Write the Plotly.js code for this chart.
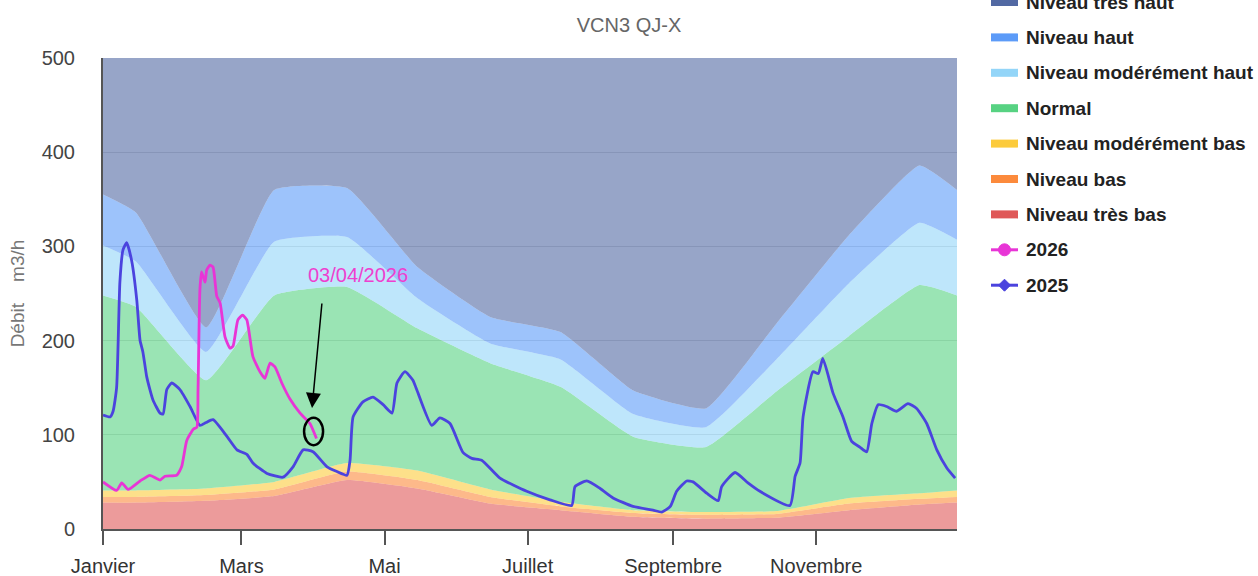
<!DOCTYPE html>
<html>
<head>
<meta charset="utf-8">
<script src="https://cdn.plot.ly/plotly-3.0.1.min.js"></script>
<style>html,body{margin:0;padding:0;background:#fff;}#chart{width:1258px;height:576px;}</style>
</head>
<body>
<div id="chart"></div>
<script>
// ---- Axis labels ----
var monthTickDays = [0, 59, 120, 181, 243, 304];
var monthTickLabels = ['Janvier', 'Mars', 'Mai', 'Juillet', 'Septembre', 'Novembre'];

// ---- Threshold bands (day of year, upper bound of each band, m3/h) ----
var bandDays      = [0, 14, 44, 73, 104, 134, 165, 195, 226, 257, 287, 318, 348, 364];
var topTresBas    = [28, 28, 30, 35, 52, 43, 27, 20, 13, 11, 12, 20, 26, 28];
var topBas        = [34, 34, 36, 42, 61, 52, 34, 24, 17, 15, 16, 27, 32, 34];
var topModBas     = [41, 41, 43, 50, 70, 62, 42, 29, 20, 18, 19, 33, 38, 41];
var topNormal     = [248, 236, 158, 248, 257, 213, 176, 151, 98, 87, 146, 205, 259, 248];
var topModHaut    = [301, 284, 188, 305, 310, 245, 197, 180, 122, 108, 180, 261, 325, 307];
var topHaut       = [355, 336, 214, 360, 362, 278, 225, 209, 147, 128, 218, 312, 386, 360];
var topTresHaut   = [500, 500, 500, 500, 500, 500, 500, 500, 500, 500, 500, 500, 500, 500];

// ---- 2026 series ----
var days2026 = [0, 5.8, 8, 10.7, 15.8, 20, 24.3, 26.4, 31.4, 33.5, 35.7, 38.5, 40, 40.5, 41.3, 42, 43.5, 44.2, 45.6, 46.9, 48.5, 49.9, 52, 54.1, 55.4, 57.5, 59.5, 61.3, 63.9, 66.9, 69, 71.2, 73.3, 76.2, 79.7, 84, 88.2, 91];
var q2026    = [50, 41, 49, 42, 51, 57, 52, 56, 57, 66, 94, 106, 108, 147, 254, 273, 262, 275, 280, 278, 247, 240, 204, 192, 194, 222, 227, 222, 183, 167, 160, 176, 172, 155, 138, 123, 112, 96];

// ---- 2025 series ----
var days2025 = [0, 3, 4.3, 5.8, 7.2, 8.5, 10.1, 12.2, 14.4, 15.8, 17, 18.6, 20, 21.3, 24.3, 25.6, 27.2, 29.3, 32.8, 37.1, 41.3, 43.9, 46.9, 52.9, 57.1, 61.4, 63.9, 69.9, 76.7, 81, 85.3, 89.5, 95.5, 99.7, 104, 105.3, 106.6, 110.8, 115.1, 119.4, 123.2, 125.3, 128.7, 132.1, 133.7, 140.1, 143.6, 147.9, 153.5, 157.2, 161.4, 169.2, 180.6, 190.5, 199.8, 201.2, 206.2, 211.9, 217.4, 225.9, 234.4, 238.2, 241.8, 244.5, 248.8, 251.5, 257.3, 262.2, 263.7, 269.4, 274.9, 280, 292.8, 295, 297.1, 298.4, 302.6, 304.9, 306.8, 311.2, 315.4, 319.1, 322.6, 325.5, 327.7, 330.4, 334, 338.3, 343.1, 346.8, 351.1, 355.4, 359.6, 363.2];
var q2025    = [121, 119, 125, 150, 262, 296, 304, 285, 243, 200, 188, 162, 148, 137, 123, 122, 148, 155, 148, 130, 110, 113, 116, 98, 84, 79, 70, 59, 55, 66, 84, 82, 66, 61, 57, 73, 119, 135, 140, 132, 123, 155, 167, 158, 148, 110, 118, 112, 81, 75, 73, 54, 40, 31, 25, 45, 51, 43, 33, 24, 20, 18, 24, 40, 51, 50, 38, 30, 45, 60, 49, 40, 25, 56, 70, 119, 167, 165, 181, 144, 119, 93, 87, 82, 112, 132, 130, 125, 133, 128, 112, 84, 65, 54];

// ---- Names & colours ----
var bandNames = ['Niveau très haut', 'Niveau haut', 'Niveau modérément haut', 'Normal', 'Niveau modérément bas', 'Niveau bas', 'Niveau très bas'];
var bandColors = ['#5269a3', '#5c9bf8', '#93d5f8', '#57d282', '#fccb3c', '#fc8a3c', '#df5858'];
var bandTops = [topTresHaut, topHaut, topModHaut, topNormal, topModBas, topBas, topTresBas];
var seriesNames = ['2026', '2025'];
var color2026 = '#e835d6';
var color2025 = '#4b43de';

function rgba(hex, a) {
  var r = parseInt(hex.substr(1, 2), 16), g = parseInt(hex.substr(3, 2), 16), b = parseInt(hex.substr(5, 2), 16);
  return 'rgba(' + r + ',' + g + ',' + b + ',' + a + ')';
}

var traces = [];
for (var i = bandTops.length - 1; i >= 0; i--) {
  traces.push({
    x: bandDays, y: bandTops[i], type: 'scatter', mode: 'lines', name: bandNames[i],
    line: {width: 0, shape: 'spline', smoothing: 0.4},
    fill: i === bandTops.length - 1 ? 'tozeroy' : 'tonexty',
    fillcolor: rgba(bandColors[i], 0.6),
    hoverinfo: 'skip'
  });
}
traces.push({x: days2025, y: q2025, type: 'scatter', mode: 'lines', name: '2025',
  line: {color: color2025, width: 2.8, shape: 'spline', smoothing: 0.5}});
traces.push({x: days2026, y: q2026, type: 'scatter', mode: 'lines', name: '2026',
  line: {color: color2026, width: 2.8, shape: 'spline', smoothing: 0.5}});

var font = 'Liberation Sans, Arial, sans-serif';

// ---- Legend drawn in the right margin (paper coords from pixel positions) ----
var M = {l: 103, r: 301, t: 58, b: 47}, W = 1258, H = 576;
var pw = W - M.l - M.r, ph = H - M.t - M.b;
function px(xp) { return (xp - M.l) / pw; }
function py(yp) { return (H - M.b - yp) / ph; }
var legendItems = [];
for (var k = 0; k < bandNames.length; k++) legendItems.push({name: bandNames[k], color: bandColors[k], kind: 'band'});
legendItems.push({name: seriesNames[0], color: color2026, kind: 'circle'});
legendItems.push({name: seriesNames[1], color: color2025, kind: 'diamond'});

var annotations = [
  {x: 108.7, y: 270, xref: 'x', yref: 'y', text: '03/04/2026', showarrow: false,
    font: {family: font, size: 20, color: '#ee3fcf'}},
  {x: 89.1, y: 128.5, xref: 'x', yref: 'y', text: '', showarrow: true,
    ax: 10, ay: -106, arrowhead: 2, arrowsize: 2, arrowwidth: 1.5, arrowcolor: '#000'}
];
var shapes = [
  {type: 'circle', xref: 'x', yref: 'y', x0: 85.7, x1: 93.8, y0: 89, y1: 118,
    line: {color: '#000', width: 2.5}}
];
legendItems.forEach(function (it, idx) {
  var cy = 2 + idx * 35.4;
  annotations.push({xref: 'paper', yref: 'paper', x: px(1024), y: py(cy), xanchor: 'left', yanchor: 'middle',
    text: '<b>' + it.name + '</b>', showarrow: false, font: {family: font, size: 19, color: '#222'}});
  shapes.push({type: 'line', xref: 'paper', yref: 'paper', x0: px(991), x1: px(1018), y0: py(cy), y1: py(cy),
    line: {color: it.color, width: it.kind === 'band' ? 8 : 3}});
  if (it.kind === 'circle') {
    shapes.push({type: 'circle', xref: 'paper', yref: 'paper', xsizemode: 'pixel', ysizemode: 'pixel',
      xanchor: px(1004.5), yanchor: py(cy), x0: -6, x1: 6, y0: -6, y1: 6,
      fillcolor: it.color, line: {color: it.color, width: 1}});
  } else if (it.kind === 'diamond') {
    shapes.push({type: 'path', xref: 'paper', yref: 'paper', xsizemode: 'pixel', ysizemode: 'pixel',
      xanchor: px(1004.5), yanchor: py(cy), path: 'M -6 0 L 0 6 L 6 0 L 0 -6 Z',
      fillcolor: it.color, line: {color: it.color, width: 1}});
  }
});

var layout = {
  width: W, height: H,
  margin: M,
  showlegend: false,
  paper_bgcolor: '#fff', plot_bgcolor: '#fff',
  font: {family: font, color: '#333'},
  title: {text: 'VCN3 QJ-X', x: 0.5, xref: 'container', xanchor: 'center',
    y: 1 - 25 / 576, yref: 'container', yanchor: 'middle',
    font: {family: font, size: 20, color: '#666'}},
  xaxis: {
    range: [0, 364], tickmode: 'array', tickvals: monthTickDays, ticktext: monthTickLabels,
    showgrid: false, zeroline: false, showline: true, linecolor: '#555', linewidth: 2,
    ticks: 'outside', ticklen: 14, tickwidth: 2, tickcolor: '#555', ticklabelstandoff: 4,
    tickfont: {family: font, size: 20, color: '#333'}
  },
  yaxis: {
    range: [0, 500], tickvals: [0, 100, 200, 300, 400, 500], showgrid: true, gridcolor: '#d8d8d8', gridwidth: 1,
    zeroline: false, showline: true, linecolor: '#555', linewidth: 2, ticks: '',
    ticklabelstandoff: 22,
    tickfont: {family: font, size: 20, color: '#444'},
    title: {text: 'Débit\u00a0\u00a0\u00a0\u00a0m3/h', standoff: 12, font: {family: font, size: 19, color: '#777'}}
  },
  annotations: annotations,
  shapes: shapes
};

Plotly.newPlot('chart', traces, layout, {displayModeBar: false, staticPlot: true});
</script>
</body>
</html>
